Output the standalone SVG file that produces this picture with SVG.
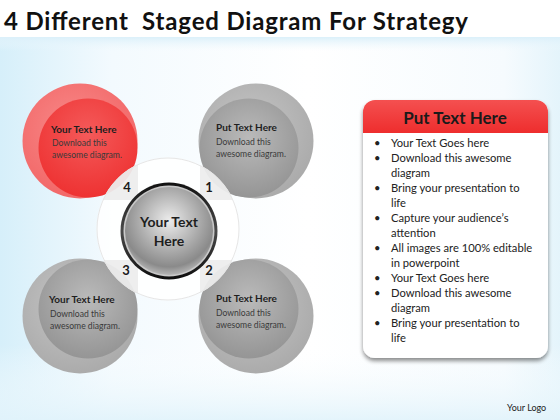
<svg xmlns="http://www.w3.org/2000/svg" width="560" height="420" viewBox="0 0 560 420">
<defs>
<linearGradient id="bgL" x1="0" y1="0" x2="1" y2="0">
<stop offset="0" stop-color="#d6effa"/><stop offset="0.2" stop-color="#f3fafe"/><stop offset="0.55" stop-color="#ffffff"/><stop offset="0.9" stop-color="#f6fbfe"/><stop offset="1" stop-color="#e4f4fb"/>
</linearGradient>
<linearGradient id="bgV" x1="0" y1="0" x2="0" y2="1">
<stop offset="0" stop-color="#ffffff" stop-opacity="0"/><stop offset="0.82" stop-color="#ffffff" stop-opacity="0"/><stop offset="1" stop-color="#e1f3fb" stop-opacity="0.9"/>
</linearGradient>
<linearGradient id="band" x1="0" y1="0" x2="0" y2="1">
<stop offset="0" stop-color="#dbf0fa"/><stop offset="1" stop-color="#eef8fd" stop-opacity="0"/>
</linearGradient>
<radialGradient id="redOut" cx="0.45" cy="0.4" r="0.6">
<stop offset="0" stop-color="#f88a8a"/><stop offset="1" stop-color="#f26868"/>
</radialGradient>
<radialGradient id="redIn" cx="0.5" cy="0.35" r="0.65">
<stop offset="0" stop-color="#f45a5a"/><stop offset="1" stop-color="#ee3232"/>
</radialGradient>
<radialGradient id="grayOut" cx="0.45" cy="0.4" r="0.6">
<stop offset="0" stop-color="#c6c6c6"/><stop offset="1" stop-color="#ababab"/>
</radialGradient>
<radialGradient id="grayIn" cx="0.5" cy="0.4" r="0.65">
<stop offset="0" stop-color="#bababa"/><stop offset="1" stop-color="#929292"/>
</radialGradient>
<radialGradient id="knob" cx="0.5" cy="0.38" r="0.62">
<stop offset="0" stop-color="#ececec"/><stop offset="0.55" stop-color="#acacac"/><stop offset="0.85" stop-color="#8a8a8a"/><stop offset="1" stop-color="#b5b5b5"/>
</radialGradient>
<linearGradient id="knobRing" x1="0" y1="0" x2="0" y2="1">
<stop offset="0" stop-color="#111"/><stop offset="0.5" stop-color="#4a4a4a"/><stop offset="1" stop-color="#0d0d0d"/>
</linearGradient>
<linearGradient id="hdr" x1="0" y1="0" x2="0" y2="1">
<stop offset="0" stop-color="#f45050"/><stop offset="1" stop-color="#ee2d2d"/>
</linearGradient>
<clipPath id="ringClip"><circle cx="168" cy="229" r="71.5"/></clipPath>
<filter id="sh" x="-10%" y="-10%" width="120%" height="125%">
<feGaussianBlur in="SourceAlpha" stdDeviation="2"/><feOffset dx="0" dy="3"/>
<feComponentTransfer><feFuncA type="linear" slope="0.45"/></feComponentTransfer>
<feMerge><feMergeNode/><feMergeNode in="SourceGraphic"/></feMerge>
</filter>
</defs>
<style>
text{font-family:Lato,"Liberation Sans",sans-serif}
.t{font-weight:bold;font-size:10px;fill:#1e1e1e}
.d{font-size:8.6px;fill:#3a3a3a}
.n{font-weight:bold;font-size:13px;fill:#1a1a1a}
.b{font-size:11.2px;fill:#222}
.q{fill:#e2e2e2;fill-opacity:0.6}
</style>
<rect x="0" y="0" width="560" height="420" fill="url(#bgL)"/>
<rect x="0" y="0" width="560" height="420" fill="url(#bgV)"/>
<rect x="0" y="0" width="560" height="37" fill="#ffffff"/>
<rect x="0" y="37" width="560" height="14" fill="url(#band)"/>
<text x="4" y="30" font-size="24" font-weight="bold" fill="#111" textLength="464" xml:space="preserve">4 Different  Staged Diagram For Strategy</text>

<g id="node-top-left">
<circle cx="80" cy="141" r="57.5" fill="url(#redOut)"/>
<circle cx="88" cy="148" r="49.5" fill="url(#redIn)"/>
<text class="t" x="51" y="133">Your Text Here</text>
<text class="d" x="52" y="146">Download this</text>
<text class="d" x="52" y="158">awesome diagram.</text>
</g>
<g id="node-top-right">
<circle cx="256" cy="141" r="57.5" fill="url(#grayOut)"/>
<circle cx="249" cy="148" r="49.5" fill="url(#grayIn)"/>
<text class="t" x="216" y="131">Put Text Here</text>
<text class="d" x="216" y="145">Download this</text>
<text class="d" x="216" y="157">awesome diagram.</text>
</g>
<g id="node-bottom-left">
<circle cx="80" cy="316" r="57.5" fill="url(#grayOut)"/>
<circle cx="88" cy="309" r="49.5" fill="url(#grayIn)"/>
<text class="t" x="49" y="303">Your Text Here</text>
<text class="d" x="50" y="317">Download this</text>
<text class="d" x="50" y="329">awesome diagram.</text>
</g>
<g id="node-bottom-right">
<circle cx="256" cy="316" r="57.5" fill="url(#grayOut)"/>
<circle cx="249" cy="309" r="49.5" fill="url(#grayIn)"/>
<text class="t" x="216" y="302">Put Text Here</text>
<text class="d" x="216" y="316">Download this</text>
<text class="d" x="216" y="328">awesome diagram.</text>
</g>

<g id="connectors"></g>

<g id="node-center">
<circle cx="168" cy="229" r="71.5" fill="#ffffff" fill-opacity="0.85"/>
<g clip-path="url(#ringClip)">
<rect class="q" x="96" y="157" width="42" height="43"/>
<rect class="q" x="200" y="157" width="42" height="43"/>
<rect class="q" x="96" y="260" width="42" height="43"/>
<rect class="q" x="200" y="260" width="42" height="43"/>
</g>
<circle cx="168" cy="229" r="71" fill="none" stroke="#e6e6e6" stroke-width="1"/>
<circle cx="169" cy="231" r="48.5" fill="url(#knobRing)"/>
<circle cx="169" cy="231" r="45.5" fill="#c9c9c9"/>
<circle cx="169" cy="231" r="44" fill="url(#knob)"/>
<text x="169" y="227" text-anchor="middle" font-size="14" font-weight="bold" fill="#1e1e1e">Your Text</text>
<text x="169" y="246" text-anchor="middle" font-size="14" font-weight="bold" fill="#1e1e1e">Here</text>
<text class="n" x="127" y="192" text-anchor="middle">4</text>
<text class="n" x="209" y="192" text-anchor="middle">1</text>
<text class="n" x="126" y="275" text-anchor="middle">3</text>
<text class="n" x="209" y="275" text-anchor="middle">2</text>
</g>

<g id="panel">
<g filter="url(#sh)">
<rect x="363" y="100" width="185" height="258" rx="12" fill="#ffffff"/>
</g>
<path d="M363,133 V112 A12,12 0 0 1 375,100 H536 A12,12 0 0 1 548,112 V133 Z" fill="url(#hdr)"/>
<text x="455" y="124" text-anchor="middle" font-size="17" font-weight="bold" fill="#1a1a1a">Put Text Here</text>
<text class="b" x="374" y="147">•</text><text class="b" x="391" y="147">Your Text Goes here</text>
<text class="b" x="374" y="162">•</text><text class="b" x="391" y="162">Download this awesome</text>
<text class="b" x="391" y="177">diagram</text>
<text class="b" x="374" y="192">•</text><text class="b" x="391" y="192">Bring your presentation to</text>
<text class="b" x="391" y="207">life</text>
<text class="b" x="374" y="222">•</text><text class="b" x="391" y="222">Capture your audience’s</text>
<text class="b" x="391" y="237">attention</text>
<text class="b" x="374" y="252">•</text><text class="b" x="391" y="252">All images are 100% editable</text>
<text class="b" x="391" y="267">in powerpoint</text>
<text class="b" x="374" y="282">•</text><text class="b" x="391" y="282">Your Text Goes here</text>
<text class="b" x="374" y="297">•</text><text class="b" x="391" y="297">Download this awesome</text>
<text class="b" x="391" y="312">diagram</text>
<text class="b" x="374" y="327">•</text><text class="b" x="391" y="327">Bring your presentation to</text>
<text class="b" x="391" y="342">life</text>
</g>
<text x="507" y="411" font-size="9" fill="#222">Your Logo</text>
</svg>
